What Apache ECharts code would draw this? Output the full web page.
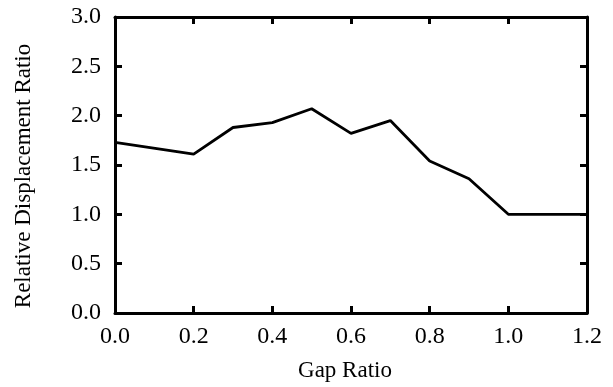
<!DOCTYPE html>
<html>
<head>
<meta charset="utf-8">
<script src="https://cdn.jsdelivr.net/npm/echarts@6/dist/echarts.min.js"></script>
<style>
  html, body { margin: 0; padding: 0; background: #fff; }
  #chart { width: 613px; height: 387px; }
</style>
</head>
<body>
<div id="chart"></div>
<script>
// Gap ratio vs. relative displacement ratio
const gapRatio = [0.0, 0.2, 0.3, 0.4, 0.5, 0.6, 0.7, 0.8, 0.9, 1.0, 1.2];
const displacementRatio = [1.73, 1.61, 1.88, 1.93, 2.07, 1.82, 1.95, 1.54, 1.36, 1.0, 1.0];

const xTitle = 'Gap Ratio';
const yTitle = 'Relative Displacement Ratio';

const font = 'Liberation Serif';
const ink = '#000';

const points = gapRatio.map((g, i) => [g, displacementRatio[i]]);

const axisLine = { show: true, onZero: false, lineStyle: { color: ink, width: 3 } };
const axisTick = { show: true, inside: true, length: 7, lineStyle: { color: ink, width: 3 } };
const fmt = v => v.toFixed(1);

const chart = echarts.init(document.getElementById('chart'), null, { renderer: 'canvas' });
chart.setOption({
  animation: false,
  backgroundColor: '#fff',
  grid: { left: 115, right: 26, top: 17, bottom: 73 },
  xAxis: [
    {
      type: 'value', min: 0, max: 1.2, interval: 0.2, position: 'bottom',
      axisLine, axisTick, splitLine: { show: false },
      axisLabel: { formatter: fmt, color: ink, fontFamily: font, fontSize: 24, margin: 12 },
      name: xTitle, nameLocation: 'middle', nameGap: 46,
      nameTextStyle: { color: ink, fontFamily: font, fontSize: 23, padding: [0, 12, 0, 0] }
    },
    {
      type: 'value', min: 0, max: 1.2, interval: 0.2, position: 'top',
      axisLine, axisTick, splitLine: { show: false }, axisLabel: { show: false }
    }
  ],
  yAxis: [
    {
      type: 'value', min: 0, max: 3, interval: 0.5, position: 'left',
      axisLine, axisTick, splitLine: { show: false },
      axisLabel: { formatter: fmt, color: ink, fontFamily: font, fontSize: 24, margin: 14 },
      name: yTitle, nameLocation: 'middle', nameGap: 80,
      nameTextStyle: { color: ink, fontFamily: font, fontSize: 23, padding: [0, 0, 0, -22] }
    },
    {
      type: 'value', min: 0, max: 3, interval: 0.5, position: 'right',
      axisLine, axisTick, splitLine: { show: false }, axisLabel: { show: false }
    }
  ],
  series: [{
    type: 'line',
    data: points,
    showSymbol: false,
    symbol: 'none',
    lineStyle: { color: ink, width: 2.8 },
    z: 3
  }]
});
</script>
</body>
</html>
